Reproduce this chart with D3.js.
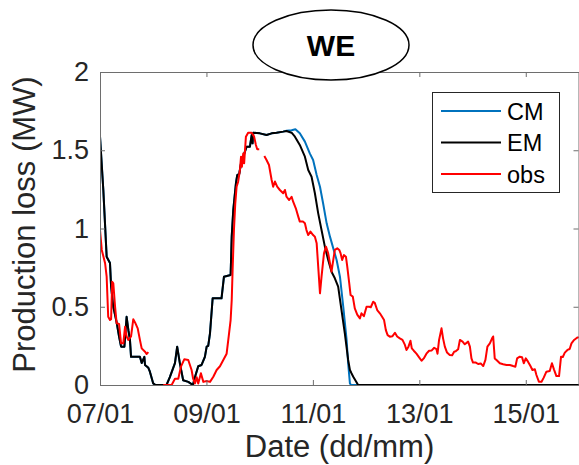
<!DOCTYPE html>
<html>
<head>
<meta charset="utf-8">
<script src="https://cdn.jsdelivr.net/npm/d3@7"></script>
<style>
  html, body { margin: 0; padding: 0; background: #fff; }
  svg { display: block; font-family: "Liberation Sans", Arial, Helvetica, sans-serif; }
</style>
</head>
<body>
<svg id="chart" width="579" height="465"></svg>
<script>
// Production loss of the WE site, 07/01 – 16/01, hourly resolution.
// Each series: [hours since 07/01 00:00, production loss in MW]; null marks missing data.
const emSeries = [
  [0,1.587],[1.5,1.246],[3.0,0.82],[4.5,0.78],[5.0,0.63],[6.0,0.50],[7.5,0.40],[8.6,0.31],
  [9.5,0.245],[11.0,0.245],[12.0,0.436],[12.8,0.35],[13.5,0.29],[14.0,0.18],[18.0,0.18],
  [18.8,0.14],[20.0,0.18],[20.3,0.128],[21.8,0.11],[22.5,0.085],[24.0,0.01],[25,0],[30,0],
  [31.5,0.05],[33.8,0.14],[34.8,0.245],[36.0,0.14],[37.5,0.03],[39.8,0.02],[41.9,0],
  [42.8,0.05],[44.3,0.12],[45.8,0.128],[47.3,0.18],[48.1,0.245],[48.8,0.25],[49.6,0.33],
  [50.8,0.554],[54.8,0.554],[55.9,0.692],[58.9,0.703],[59.4,0.948],[60.1,1.118],[61.3,1.289],
  [61.9,1.342],[62.8,1.35],[63.6,1.417],[64.6,1.459],[66.1,1.523],[67.6,1.523],[68.4,1.597],
  [68.8,1.544],[69.1,1.612],[72.1,1.608],[75.1,1.597],[77.4,1.608],[79.6,1.612],[82.6,1.619],
  [84.1,1.623],[86.4,1.612],[87.9,1.587],[90.1,1.534],[92.4,1.459],[93.9,1.374],[95.4,1.331],
  [96.9,1.225],[98.4,1.097],[99.9,0.99],[101.4,0.884],[102.9,0.799],[104.4,0.724],[105.9,0.682],
  [107.4,0.628],[108.9,0.479],[110.4,0.33],[111.9,0.16],[112.7,0.096],[113.4,0.075],
  [114.2,0.053],[116.4,0],[216,0]
];

const cmSeries = [
  [0,1.587],[1.5,1.246],[3.0,0.82],[4.5,0.78],[5.0,0.63],[6.0,0.50],[7.5,0.40],[8.6,0.31],
  [9.5,0.245],[11.0,0.245],[12.0,0.436],[12.8,0.35],[13.5,0.29],[14.0,0.18],[18.0,0.18],
  [18.8,0.14],[20.0,0.18],[20.3,0.128],[21.8,0.11],[22.5,0.085],[24.0,0.01],[25,0],[30,0],
  [31.5,0.05],[33.8,0.14],[34.8,0.245],[36.0,0.14],[37.5,0.03],[39.8,0.02],[41.9,0],
  [42.8,0.05],[44.3,0.12],[45.8,0.128],[47.3,0.18],[48.1,0.245],[48.8,0.25],[49.6,0.33],
  [50.8,0.554],[54.8,0.554],[55.9,0.692],[58.9,0.703],[59.4,0.948],[60.1,1.118],[61.3,1.289],
  [61.9,1.342],[62.8,1.35],[63.6,1.417],[64.6,1.459],[66.1,1.523],[67.6,1.523],[68.4,1.597],
  [68.8,1.544],[69.1,1.612],[72.1,1.608],[75.1,1.597],[77.4,1.608],[79.6,1.612],[82.6,1.619],
  [84.1,1.625],[86.4,1.628],[88.1,1.634],[90.1,1.608],[92.4,1.555],[94.6,1.48],[96.1,1.438],
  [97.7,1.342],[99.2,1.267],[100.6,1.161],[102.2,1.033],[103.7,0.948],[105.2,0.873],
  [106.7,0.799],[108.2,0.692],[109.7,0.5],[111.2,0.288],[111.9,0.139],[112.7,0.01],
  [113.2,0],[216,0]
];

const obsSeries = [
  [0,0.99],[0.8,0.863],[2.3,0.778],[3.0,0.692],[3.7,0.436],[4.5,0.415],[5.0,0.42],[5.5,0.66],
  [6.0,0.65],[6.8,0.5],[7.5,0.394],[8.6,0.39],[9.5,0.266],[10.5,0.266],[11.3,0.372],[12.0,0.31],
  [12.8,0.288],[14.0,0.31],[15.0,0.42],[15.8,0.40],[17.0,0.362],[18.0,0.288],[18.8,0.234],
  [20.3,0.213],[21.0,0.198],[21.8,0.21],[22.5,null],
  [28.5,0],[32.3,0],[33.8,0.04],[35.3,0.04],[36.5,0.117],[38.0,0.164],[39.8,0.16],[41.3,0.096],
  [42.0,0.04],[42.8,0.01],[43.6,0.05],[44.3,0.01],[45.5,0.075],[46.6,0.02],[48.1,0.025],
  [49.6,0.02],[51.1,0.053],[52.6,0.096],[54.1,0.12],[55.6,0.16],[57.1,0.2],[58.2,0.33],
  [58.9,0.415],[59.4,0.543],[59.8,0.735],[60.4,0.99],[61.0,1.161],[61.6,1.267],[62.3,1.299],
  [63.1,1.374],[63.6,1.459],[64.0,1.395],[64.6,1.48],[65.0,1.417],[65.8,1.587],[66.8,1.612],
  [68.4,1.612],[69.5,1.587],[70.3,1.534],[70.9,1.506],[71.8,1.506],[73.0,null],
  [74.1,1.463],[75.1,1.438],[76.2,1.406],[77.4,1.31],[78.1,1.267],[78.9,1.3],[79.9,1.267],
  [81.1,1.246],[82.6,1.225],[83.4,1.246],[84.1,1.203],[85.3,1.182],[86.4,1.203],[87.1,1.171],
  [88.3,1.129],[89.4,1.076],[90.1,1.044],[91.5,1.044],[92.4,1.033],[93.1,0.99],[93.9,0.958],
  [94.9,0.98],[96.1,0.958],[96.9,0.948],[97.7,0.905],[98.4,0.756],[99.2,0.586],[99.9,0.692],
  [101.0,0.841],[101.9,0.884],[102.9,0.841],[103.7,0.778],[104.4,0.724],[105.2,0.799],
  [105.9,0.863],[107.0,0.873],[107.9,0.863],[108.5,0.841],[109.2,0.799],[110.0,0.83],
  [110.9,0.82],[111.5,0.756],[112.4,0.65],[113.0,0.575],[114.0,0.565],[114.9,0.49],
  [116.0,0.45],[117.2,0.426],[117.9,0.458],[119.0,0.44],[120.2,0.5],[121.4,0.5],[122.1,0.497],
  [123.2,0.532],[123.9,0.525],[125.0,0.479],[126.2,0.458],[127.2,0.436],[128.1,0.415],
  [128.9,0.351],[129.7,0.319],[130.7,0.309],[131.9,0.312],[133.0,0.334],[134.0,0.31],
  [135.2,0.298],[136.4,0.288],[137.5,0.256],[138.2,0.224],[139.1,0.245],[140.0,0.283],
  [140.6,0.234],[141.5,0.219],[142.7,0.2],[143.9,0.177],[145.0,0.155],[146.0,0.17],
  [147.2,0.2],[148.4,0.219],[149.6,0.221],[150.7,0.238],[151.7,0.23],[152.2,0.2],[152.9,0.288],
  [154.0,0.362],[154.7,0.298],[155.5,0.245],[156.5,0.207],[157.7,0.192],[158.8,0.19],
  [159.7,0.213],[160.4,0.215],[161.5,0.228],[162.3,0.288],[163.5,0.277],[164.5,0.26],
  [166.0,0.277],[166.8,0.245],[167.5,0.17],[168.2,0.143],[169.5,0.143],[170.5,0.134],
  [171.7,0.138],[172.8,0.121],[173.8,0.16],[174.7,0.245],[175.8,0.266],[176.8,0.298],
  [177.3,0.31],[178.0,0.17],[178.8,0.16],[180.3,0.139],[181.8,0.133],[183.3,0.128],
  [184.8,0.128],[186.3,0.121],[187.3,0.117],[188.1,0.17],[189.3,0.181],[190.3,0.178],
  [191.1,0.139],[192.0,0.17],[193.0,0.149],[194.1,0.121],[195.0,0.096],[196.1,0.101],
  [196.8,0.064],[197.9,0.021],[199.1,0.021],[200.1,0.047],[201.3,0.085],[202.8,0.09],
  [203.8,0.139],[204.7,0.1],[205.8,0.057],[207.0,0.057],[207.9,0.181],[208.7,0.179],
  [209.6,0.207],[210.8,0.224],[211.8,0.23],[212.6,0.266],[213.8,0.288],[215.1,0.302],[215.9,0.306]
];

const seriesNames = ["CM", "EM", "obs"];
const seriesColors = ["#0072BD", "#000000", "#FF0000"];
const yTicks = [0, 0.5, 1, 1.5, 2];
const xTickDays = [7, 9, 11, 13, 15];
const titleText = "WE";
const xLabel = "Date (dd/mm)";
const yLabel = "Production loss (MW)";

// Period start (year is arbitrary; only day/month are shown)
const startDate = new Date(Date.UTC(2018, 0, 7));
const endDate = new Date(Date.UTC(2018, 0, 16));
const toDate = h => new Date(startDate.getTime() + h * 3600e3);

const svg = d3.select("#chart");
const L = 100, T = 72, R = 579, B = 385;

const x = d3.scaleUtc().domain([startDate, endDate]).range([L, R]);
const y = d3.scaleLinear().domain([0, 2]).range([B, T]);
const fmt = d3.utcFormat("%d/%m");
const xTickVals = xTickDays.map(d => new Date(Date.UTC(2018, 0, d)));

const axisColor = "#6e6e6e";
const textColor = "#262626";

svg.append("clipPath").attr("id", "plotClip")
  .append("rect").attr("x", L).attr("y", T).attr("width", R - L).attr("height", B - T);

// Data lines
const line = d3.line()
  .defined(d => d[1] !== null)
  .x(d => x(toDate(d[0])))
  .y(d => y(d[1]));

const allSeries = [cmSeries, emSeries, obsSeries];
const gLines = svg.append("g").attr("clip-path", "url(#plotClip)");
allSeries.forEach((s, i) => {
  gLines.append("path")
    .datum(s)
    .attr("d", line)
    .attr("fill", "none")
    .attr("stroke", seriesColors[i])
    .attr("stroke-width", 2)
    .attr("stroke-linejoin", "round");
});

// Axes (ticks pointing inward, box on all four sides)
function styleAxis(g) {
  g.select(".domain").attr("stroke", axisColor);
  g.selectAll(".tick line").attr("stroke", axisColor);
  g.selectAll(".tick text").attr("fill", textColor).attr("font-size", 27)
    .attr("font-family", "'Liberation Sans', Arial, sans-serif");
}

svg.append("g").attr("transform", `translate(0,${B})`)
  .call(d3.axisBottom(x).tickValues(xTickVals).tickFormat(fmt).tickSizeInner(-5).tickSizeOuter(0).tickPadding(19))
  .call(styleAxis);
svg.append("g").attr("transform", `translate(0,${T})`)
  .call(d3.axisTop(x).tickValues(xTickVals).tickFormat("").tickSizeInner(-5).tickSizeOuter(0))
  .call(styleAxis);
svg.append("g").attr("transform", `translate(${L},0)`)
  .call(d3.axisLeft(y).tickValues(yTicks).tickFormat(d3.format("")).tickSizeInner(-5).tickSizeOuter(0).tickPadding(11))
  .call(styleAxis);
svg.append("g").attr("transform", `translate(${R - 0.5},0)`)
  .call(d3.axisRight(y).tickValues(yTicks).tickFormat("").tickSizeInner(-5).tickSizeOuter(0))
  .call(styleAxis);

// Axis labels
svg.append("text")
  .attr("x", (L + R) / 2).attr("y", 457)
  .attr("text-anchor", "middle").attr("font-size", 31).attr("fill", textColor)
  .text(xLabel);
svg.append("text")
  .attr("transform", `translate(35,${(T + B) / 2 - 4}) rotate(-90)`)
  .attr("text-anchor", "middle").attr("font-size", 31).attr("fill", textColor)
  .text(yLabel);

// Legend
const leg = svg.append("g");
leg.append("rect").attr("x", 432.5).attr("y", 92.5).attr("width", 127).attr("height", 100)
  .attr("fill", "#fff").attr("stroke", textColor).attr("stroke-width", 1);
seriesNames.forEach((n, i) => {
  const ly = 111 + i * 31.5;
  leg.append("line").attr("x1", 441).attr("x2", 501).attr("y1", ly).attr("y2", ly)
    .attr("stroke", seriesColors[i]).attr("stroke-width", 2);
  leg.append("text").attr("x", 507).attr("y", ly + 8.5)
    .attr("font-size", 23.5).attr("fill", "#000").text(n);
});

// Title in an ellipse
svg.append("ellipse").attr("cx", 331).attr("cy", 45).attr("rx", 78).attr("ry", 35)
  .attr("fill", "#fff").attr("stroke", "#000").attr("stroke-width", 1.5);
svg.append("text").attr("x", 331).attr("y", 56)
  .attr("text-anchor", "middle").attr("font-size", 30).attr("font-weight", "bold")
  .attr("fill", "#000").text(titleText);
</script>
</body>
</html>
